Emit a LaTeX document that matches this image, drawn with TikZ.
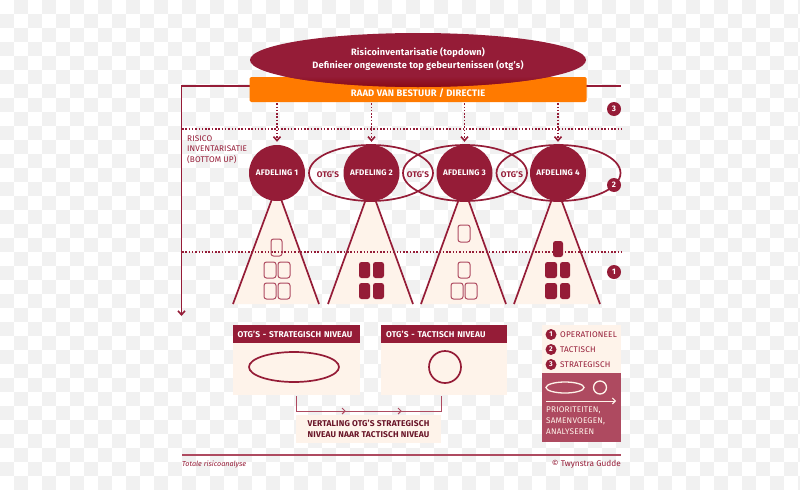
\documentclass[tikz,border=0pt]{standalone}
\usepackage{fontspec}
\setmainfont{Fira Sans}
\usetikzlibrary{shapes.geometric,arrows.meta,decorations.markings}
\definecolor{wine}{HTML}{951C37}
\definecolor{winemid}{HTML}{AE4A60}
\definecolor{winedark}{HTML}{8A0A14}
\definecolor{orangebar}{HTML}{FF7A00}
\definecolor{cream}{HTML}{FEF3EA}
\definecolor{chk}{HTML}{F1F1F1}
\tikzset{
  vee/.style={-{Straight Barb[length=4pt,width=7pt,line width=1.6pt]}},
  dotline/.style={draw=wine,line width=1.6pt,dash pattern=on 1.5pt off 1.8pt},
  dept/.style={circle,fill=wine,minimum size=56pt,inner sep=0pt,text=white,font=\fontsize{8.1}{10}\selectfont\addfontfeature{LetterSpace=2}\bfseries},
  otg/.style={ellipse,draw=wine,line width=1.7pt,minimum width=124pt,minimum height=56pt,inner sep=0pt},
  otgtext/.style={text=wine,inner sep=0pt,font=\fontsize{8.2}{10}\selectfont\addfontfeature{LetterSpace=2}\bfseries},
  badge/.style={circle,fill=wine,minimum size=14pt,inner sep=0pt,text=white,font=\fontsize{8}{9}\selectfont\bfseries},
  tri/.style={fill=cream},
  triside/.style={draw=wine,line width=1.7pt},
  unit/.style={draw=winemid,rounded corners=2.5pt,line width=1pt},
  unitf/.style={fill=wine,rounded corners=2.5pt},
  header/.style={fill=wine,text=white,anchor=north west,inner sep=0pt,minimum height=18pt,text width=#1,align=left,font=\fontsize{8.4}{10}\selectfont\addfontfeature{LetterSpace=1.5}\bfseries},
  panel/.style={fill=cream},
  legendtext/.style={text=wine,anchor=west,inner sep=0pt,font=\fontsize{8.2}{10}\selectfont\addfontfeature{LetterSpace=2}},
  smallbadge/.style={badge,minimum size=11pt,font=\fontsize{7}{8}\selectfont\bfseries},
}
\begin{document}
\begin{tikzpicture}[x=1pt,y=-1pt]
\useasboundingbox (0,0) rectangle (800,490);
\fill[white] (0,0) rectangle (800,490);
\foreach \j in {0,...,34}{
  \foreach \i in {0,...,57}{
    \pgfmathparse{int(mod(\i+\j,2))}
    \ifnum\pgfmathresult=1
      \fill[chk] (\i*14,\j*14) rectangle ({(\i+1)*14},{(\j+1)*14});
    \fi
  }
}
% orange bar and top ellipse
\coordinate (lineL) at (181.5,86);
\coordinate (lineD) at (181.5,316);
\coordinate (lineR) at (620.5,86);
\draw[wine,line width=1.6pt] (lineR) -- (500,86);
\draw[wine,line width=1.6pt,vee] (500,86) -- (lineL) -- (lineD);
\node[fill=orangebar,rounded corners=1.5pt,minimum width=337pt,minimum height=25pt,inner sep=0pt,anchor=center] (bar) at (418,89.5) {};
\node[ellipse,fill=wine,minimum width=336pt,minimum height=54pt,inner sep=0pt] (top) at (418,60) {};
\begin{scope}
  \clip (418,60) ellipse [x radius=168,y radius=27];
  \shade[top color=wine,bottom color=winedark] (250,76) rectangle (586,87);
\end{scope}
\node[text=white,inner sep=0pt,align=center,font=\fontsize{9.2}{12.3}\selectfont\addfontfeature{LetterSpace=2}\bfseries] (toptext) at (418,59) {Risicoinventarisatie (topdown)\\Definieer ongewenste top gebeurtenissen (otg's)};
\node[text=white,inner sep=0pt,font=\fontsize{9.4}{11}\selectfont\addfontfeature{LetterSpace=2}\bfseries] (bartext) at (418,93.5) {RAAD VAN BESTUUR / DIRECTIE};
% dotted level lines
\coordinate (d1L) at (182,129); \coordinate (d1R) at (621,129);
\draw[dotline] (d1L) -- (d1R);
% triangles
\foreach \c/\l/\r/\n in {277/233/319/1,371/328/413/2,464/421/506/3,557/514/600/4}{
  \fill[tri] (\c,186) -- (\r,304) -- (\l,304) -- cycle;
  \coordinate (t\n a) at ({\c-5},199); \coordinate (t\n l) at (\l,304);
  \coordinate (t\n b) at ({\c+4},199); \coordinate (t\n r) at (\r,304);
  \draw[triside] (t\n a) -- (t\n l);
  \draw[triside] (t\n b) -- (t\n r);
}
% ellipses and departments
\node[otg] (e2) at (371,173) {};
\node[otg] (e3) at (465,173) {};
\node[otg] (e4) at (558.5,173) {};
\node[dept] (a1) at (277,173) {AFDELING 1};
\node[dept] (a2) at (371.5,173) {AFDELING 2};
\node[dept] (a3) at (464.5,173) {AFDELING 3};
\node[dept] (a4) at (558,173) {AFDELING 4};
\node[otgtext] (o1) at (328,174) {OTG'S};
\node[otgtext] (o2) at (418,174) {OTG'S};
\node[otgtext] (o3) at (512,174) {OTG'S};
% dotted arrows
\foreach \n in {1,2,3,4}{
  \draw[dotline,-{Straight Barb[length=4pt,width=7pt,line width=1.6pt]},dash pattern=on 1.5pt off 1.8pt] (bar.south -| a\n.north) ++(0,1) -- ([yshift=3pt]a\n.north);
}
% second dotted line
\coordinate (d2L) at (182,252); \coordinate (d2R) at (621,252);
\draw[dotline] (d2L) -- (d2R);
% units
\foreach \x/\y/\w/\h in {271/239/11/17,264/262/12/16,278/262/12/16,264/283/12/16,278/283/12/16,
                      458/225/12/17,458/262/12/16,451/283/12/16,465/283/12/16}{
  \draw[unit] (\x,\y) rectangle ++(\w,\h);
}
\foreach \x/\y/\w/\h in {359/262/11/16,373/262/11/16,359/283/11/16,373/283/11/16,
                      553/241/10/16,545/262/12/16,560/262/10/16,545/283/12/16,560/283/10/16}{
  \fill[unitf] (\x,\y) rectangle ++(\w,\h);
}
% badges
\node[badge] (b3) at (614,109) {3};
\node[badge] (b2) at (614,185) {2};
\node[badge] (b1) at (614,272) {1};
% side label
\node[text=wine,anchor=north west,inner sep=0pt,align=left,font=\fontsize{8.2}{10.4}\selectfont\addfontfeature{LetterSpace=1.5}] (risk) at (187,135.5) {RISICO\\INVENTARISATIE\\(BOTTOM UP)};
% bottom panels
\fill[panel] (233,343) rectangle (360,395);
\fill[panel] (381,343) rectangle (507,395);
\node[header=127pt] (h1) at (233,325) {\hspace{4.5pt}OTG'S - STRATEGISCH NIVEAU};
\node[header=126pt] (h2) at (381,325) {\hspace{5pt}OTG'S - TACTISCH NIVEAU};
\node[ellipse,draw=wine,line width=1.7pt,minimum width=90pt,minimum height=30pt,inner sep=0pt] (pe) at (294,367) {};
\node[circle,draw=wine,line width=1.7pt,minimum size=32pt,inner sep=0pt] (pc) at (445,367) {};
% translation connector
\coordinate (cA) at (296,396); \coordinate (cB) at (296,411);
\coordinate (cC) at (441,411); \coordinate (cD) at (441,396);
\draw[winemid,line width=1pt,postaction={decorate},decoration={markings,
   mark=at position .37 with {\arrow{Straight Barb[length=3pt,width=6pt]}},
   mark=at position .69 with {\arrow{Straight Barb[length=3pt,width=6pt]}}}] (cA) -- (cB) -- (cC) -- (cD);
\node[fill=cream,minimum width=145pt,minimum height=28pt,inner sep=0pt,text=wine!70!black,align=center,font=\fontsize{8.4}{10.8}\selectfont\addfontfeature{LetterSpace=2}\bfseries] (vert) at (368.5,428.5) {VERTALING OTG'S STRATEGISCH\\NIVEAU NAAR TACTISCH NIVEAU};
% legend
\fill[cream] (542,325) rectangle (621,373);
\fill[winemid] (542,373) rectangle (621,442);
\node[smallbadge] (l1) at (551,334.5) {1};
\node[smallbadge] (l2) at (551,349.5) {2};
\node[smallbadge] (l3) at (551,364.5) {3};
\node[legendtext] (t1) at (560,334.5) {OPERATIONEEL};
\node[legendtext] (t2) at (560,349.5) {TACTISCH};
\node[legendtext] (t3) at (560,364.5) {STRATEGISCH};
\node[ellipse,draw=cream,line width=1.3pt,minimum width=38pt,minimum height=11pt,inner sep=0pt] (le) at (565,387.5) {};
\node[circle,draw=cream,line width=1.3pt,minimum size=13pt,inner sep=0pt] (lc) at (600,387.5) {};
\coordinate (la) at (546,401); \coordinate (lb) at (616,401);
\draw[cream,line width=1pt,-{Straight Barb[length=3pt,width=6pt]}] (la) -- (lb);
\node[text=cream,anchor=north west,inner sep=0pt,align=left,font=\fontsize{8.2}{10.9}\selectfont\addfontfeature{LetterSpace=2}] (lt) at (546,407) {PRIORITEITEN,\\SAMENVOEGEN,\\ANALYSEREN};
% footer
\coordinate (fL) at (182,455); \coordinate (fR) at (621,455);
\draw[winemid,line width=1.2pt] (fL) -- (fR);
\node[text=wine,anchor=west,inner sep=0pt,font=\fontsize{7.2}{8}\selectfont\itshape] (ft) at (182,464.5) {Totale risicoanalyse};
\node[text=wine,anchor=east,inner sep=0pt,font=\fontsize{8.3}{10}\selectfont] (fc) at (621,464.5) {© Twynstra Gudde};
\end{tikzpicture}
\end{document}
